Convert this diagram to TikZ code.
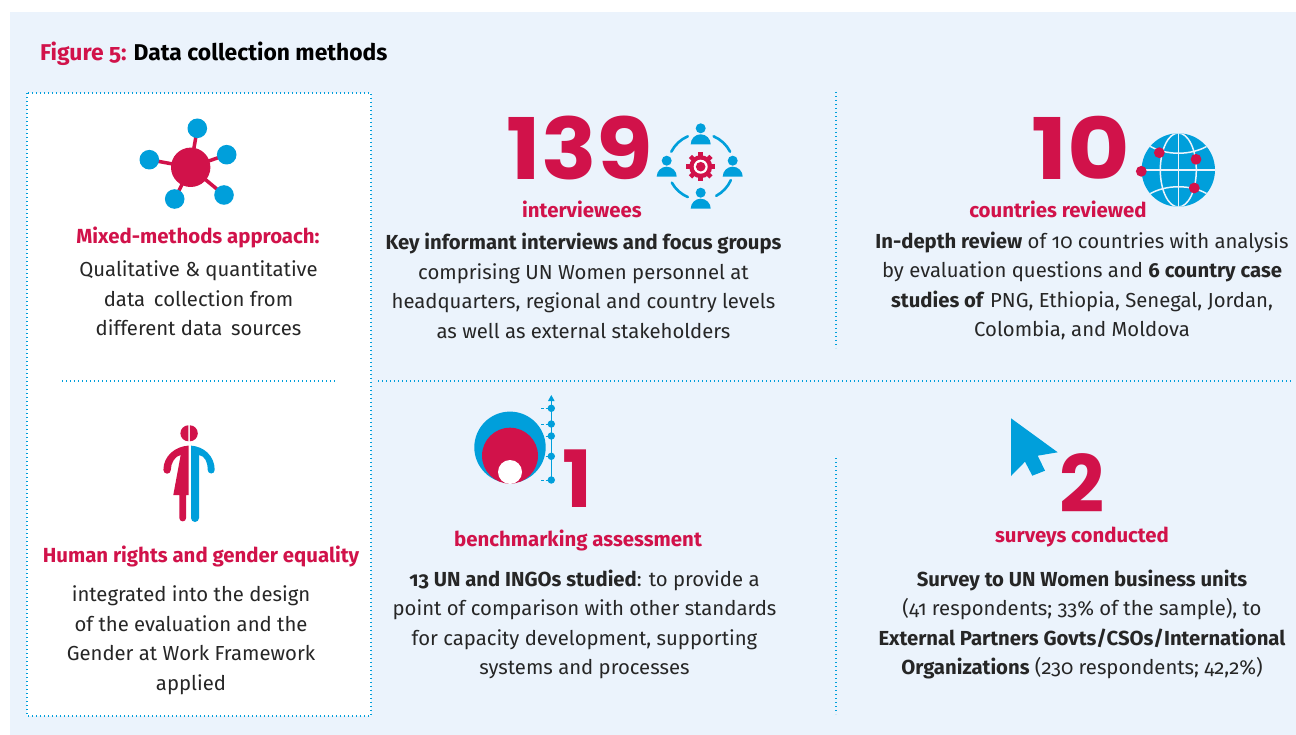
\documentclass[tikz,border=0pt]{standalone}
\usepackage{fontspec}
\setmainfont{Fira Sans}[Numbers=OldStyle]
\newfontfamily\bignum{Poppins}
\definecolor{crim}{HTML}{D1124A}
\definecolor{sky}{HTML}{009FDB}
\definecolor{pagebg}{HTML}{EBF3FC}
\newcommand{\wide}[2]{\scalebox{#1}[1]{#2}}
\tikzset{
 x=1pt,y=1pt,
 dots/.style={draw=sky,line width=1.3pt,dash pattern=on 1.3pt off 2.7pt},
 body/.style={align=center,inner sep=0pt,font=\fontsize{20.3}{29.5}\selectfont,text=black!85},
 head/.style={align=center,inner sep=0pt,font=\fontsize{20.4}{24}\selectfont\bfseries,text=crim},
 big/.style={inner sep=0pt,text=crim,text height=60pt,text depth=0pt,font=\fontsize{85}{85}\bignum\bfseries},
 small big/.style={inner sep=0pt,text=crim,text height=55pt,text depth=0pt,font=\fontsize{79}{79}\bignum\bfseries},
 link/.style={draw=crim,line width=3.5pt},
 ring/.style={draw=sky,line width=2.6pt,line cap=round},
 gl/.style={draw=pagebg,line width=1.5pt},
}
\newcommand{\person}[2]{%
 \fill[sky] (#1,#2) circle (5);
 \fill[sky] (#1-10,#2-16) arc (180:0:10 and 10) -- cycle;}
\begin{document}
\begin{tikzpicture}
\useasboundingbox (0,0) rectangle (1296,-735);
\fill[white] (0,0) rectangle (1296,-735);
\fill[pagebg] (10,-12) rectangle (1296,-735);
% title
\node[anchor=base west,inner sep=0pt,font=\fontsize{22.85}{26}\selectfont\bfseries] (title) at (40,-60.5) {\textcolor{crim}{Figure 5:} Data collection methods};
% left panel
\path[fill=white,dots] (27,-93) rectangle (371,-716);
\draw[dots] (62,-381) -- (336,-381);
\draw[dots] (378,-381) -- (1293,-381);
\draw[dots] (836,-92) -- (836,-348);
\draw[dots] (836,-458) -- (836,-714);
% network icon
\coordinate (hub) at (190.7,-167.3);
\foreach \p in {(197.3,-128.3),(149.3,-159.7),(226.7,-154.7),(224,-195),(174.7,-199)}{
 \draw[link] (hub) -- \p;
 \fill[sky] \p circle (9.8);}
\fill[crim] (hub) circle (19.7);
\node[head] (mixed) at (198,-237) {Mixed-methods approach:};
\node[body] (mixedt) at (198.5,-298.5) {Qualitative \& quantitative\\data\, collection from\\different data\, sources};
% gender icon
\fill[crim] (188.4,-425.3) arc (90:270:8) -- cycle;
\fill[crim] (189.8,-425.3) arc (90:-90:8) -- cycle;
\fill[sky] (191,-445.6) .. controls (204,-446.5) and (214.7,-456) .. (214.7,-470) arc (0:-180:3.5) .. controls (207.7,-462) and (205,-456) .. (199,-455) -- (199,-518) arc (0:-180:4) -- cycle;
\fill[crim] (188.5,-445.6) .. controls (175,-446.5) and (163.4,-456) .. (163.4,-470) arc (180:360:3.7) .. controls (170.8,-463) and (175,-456) .. (180.7,-455) -- (173.3,-495) -- (179.3,-495) -- (179.3,-518) arc (180:360:3.4) -- (186,-495) -- (188.5,-495) -- cycle;
\node[head] (rights) at (201,-556) {Human rights and gender equality};
\node[body] (rightst) at (191,-640) {integrated into the design\\of the evaluation and the\\Gender at Work Framework\\applied};
% 139
\node[big,anchor=base] (n139) at (580,-180) {\wide{1.08}{139}};
\node[head] (inter) at (582,-209) {interviewees};
\node[body] (intert) at (583.5,-286) {\textbf{Key informant interviews and focus groups}\\comprising UN Women personnel at\\headquarters, regional and country levels\\as well as external stakeholders};
% people icon
\coordinate (pc) at (700.7,-166.7);
\person{700.7}{-128.3}\person{666.7}{-160.7}\person{732.7}{-160.7}\person{700.7}{-192.7}
\draw[ring] (pc) ++(113:33) arc (113:153:33);
\draw[ring] (pc) ++(27:33) arc (27:67:33);
\draw[ring] (pc) ++(-62:33) arc (-62:-24:33);
\draw[ring] (pc) ++(209:33) arc (209:247:33);
\fill[crim] (pc) circle (11.5);
\foreach \a in {0,45,...,315}{\draw[crim,line width=4.5pt] (pc) ++(\a:10) -- ++(\a:4.5);}
\fill[white] (pc) circle (7);
\fill[crim] (pc) circle (4.8);
% 10
\node[big,anchor=base] (n10) at (1080.5,-180) {\wide{1.13}{10}};
\node[head] (count) at (1058,-209) {countries reviewed};
\node[body] (countt) at (1082,-286) {\textbf{In-depth review} of 10 countries with analysis\\by evaluation questions and \textbf{6 country case}\\\textbf{studies of} PNG, Ethiopia, Senegal, Jordan,\\Colombia, and Moldova};
% globe
\coordinate (gc) at (1178.3,-170);
\fill[sky] (gc) circle (36.7);
\begin{scope}
\clip (gc) circle (36.7);
\draw[gl] (1178.3,-133) -- (1178.3,-207);
\draw[gl] (1141,-170) -- (1216,-170);
\draw[gl] (gc) ellipse (18 and 37);
\draw[gl] (1148,-145) .. controls (1165,-156) and (1192,-156) .. (1209,-145);
\draw[gl] (1148,-195) .. controls (1165,-184) and (1192,-184) .. (1209,-195);
\end{scope}
\foreach \p in {(1159.3,-152.7),(1196,-159.3),(1141.3,-171.3),(1194.3,-188)}{\fill[crim] \p circle (5.4);}
% benchmarking icon
\fill[sky] (510,-447.3) circle (35.7);
\fill[crim] (510,-455.7) circle (28);
\fill[white] (510,-472) circle (12);
\draw[sky,line width=1.2pt] (551.3,-483) -- (551.3,-400);
\fill[sky] (551.3,-395) -- (548,-401) -- (554.6,-401) -- cycle;
\foreach \y in {408.3,424,436,456.3,480}{
 \fill[sky] (551.3,-\y) circle (3.7);
 \draw[sky,line width=0.9pt,dash pattern=on 2.5pt off 2pt] (541,-\y) -- (549,-\y);}
\node[small big,anchor=base] (n1) at (577,-507.5) {1};
\node[head] (bench) at (578,-540) {benchmarking assessment};
\node[body] (bencht) at (584.5,-624.5) {\textbf{13 UN and INGOs studied}: to provide a\\point of comparison with other standards\\for capacity development, supporting\\systems and processes};
% cursor icon
\fill[sky] (1011,-418.3) -- (1057.7,-452.3) -- (1037.7,-455.7) -- (1045,-470.7) -- (1032.3,-475.7) -- (1025,-461.7) -- (1011,-476) -- cycle;
\node[small big,anchor=base] (n2) at (1082,-512) {2};
\node[head] (surv) at (1082,-537) {surveys conducted};
\node[body] (survt) at (1082,-624.5) {\textbf{Survey to UN Women business units}\\(41 respondents; 33\% of the sample), to\\\textbf{External Partners Govts/CSOs/International}\\\textbf{Organizations} (230 respondents; 42,2\%)};
\end{tikzpicture}
\end{document}
